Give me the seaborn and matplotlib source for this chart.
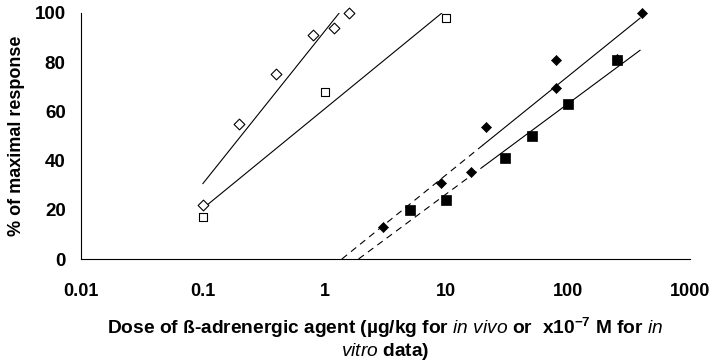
import numpy as np
import pandas as pd
import matplotlib
matplotlib.use("Agg")
import matplotlib.pyplot as plt
import seaborn as sns

# In vivo data (open symbols)
vivo_a_dose = [0.1, 0.2, 0.4, 0.8, 1.2, 1.6]
vivo_a_resp = [22, 55, 75, 91, 94, 100]
vivo_b_dose = [0.1, 1, 10]
vivo_b_resp = [17, 68, 98]

# In vitro data (filled symbols)
vitro_a_dose = [3, 9, 16, 21, 80, 80, 250, 400]
vitro_a_resp = [13, 31, 35.5, 53.5, 69.5, 81, 81.5, 100]
vitro_b_dose = [5, 10, 30, 50, 100, 250]
vitro_b_resp = [20, 24, 41, 50, 63, 81]

x_ticks = [0.01, 0.1, 1, 10, 100, 1000]
x_ticklabels = ["0.01", "0.1", "1", "10", "100", "1000"]
y_ticks = [0, 20, 40, 60, 80, 100]

sns.set_theme(style="white")
plt.rcParams["font.family"] = ["Liberation Sans", "DejaVu Sans"]
plt.rcParams["mathtext.fontset"] = "custom"
plt.rcParams["mathtext.rm"] = "Liberation Sans:bold"
plt.rcParams["mathtext.bf"] = "Liberation Sans:bold"
plt.rcParams["mathtext.it"] = "Liberation Sans:italic"

fig = plt.figure(figsize=(7.14, 3.63), dpi=100)
ax = fig.add_axes([0.1134, 0.2865, 0.853, 0.6777])


def log_fit(dose, resp):
    slope, icpt = np.polyfit(np.log10(dose), resp, 1)
    return slope, icpt


def fit_line(dose, resp, lo, hi):
    slope, icpt = log_fit(dose, resp)
    lx = np.linspace(np.log10(lo), np.log10(hi), 60)
    return pd.DataFrame({"x": 10 ** lx, "y": slope * lx + icpt})


def dose_at(dose, resp, level):
    slope, icpt = log_fit(dose, resp)
    return 10 ** ((level - icpt) / slope)


line_kw = dict(color="black", lw=0.8, ax=ax, legend=False)

# in vivo regressions, from the lowest dose up to 100 %
sns.lineplot(data=fit_line(vivo_a_dose, vivo_a_resp, 0.1,
                           dose_at(vivo_a_dose, vivo_a_resp, 100)),
             x="x", y="y", **line_kw)
sns.lineplot(data=fit_line(vivo_b_dose, vivo_b_resp, 0.1,
                           dose_at(vivo_b_dose, vivo_b_resp, 100)),
             x="x", y="y", **line_kw)

# in vitro regressions: dashed extrapolation down to 0 %, solid above
split = 20
for d, r in [(vitro_a_dose, vitro_a_resp), (vitro_b_dose, vitro_b_resp)]:
    x0 = dose_at(d, r, 0)
    dashed = fit_line(d, r, x0, split)
    solid = fit_line(d, r, split, 390)
    sns.lineplot(data=dashed, x="x", y="y", linestyle=(0, (6, 4.5)), **line_kw)
    sns.lineplot(data=solid, x="x", y="y", **line_kw)

sns.scatterplot(x=vivo_a_dose, y=vivo_a_resp, marker="D", s=30,
                facecolor="white", edgecolor="black", linewidth=0.8, ax=ax, zorder=3)
sns.scatterplot(x=vivo_b_dose, y=vivo_b_resp, marker="s", s=40,
                facecolor="white", edgecolor="black", linewidth=0.8, ax=ax, zorder=3)
sns.scatterplot(x=vitro_a_dose, y=vitro_a_resp, marker="D", s=26,
                color="black", edgecolor="black", linewidth=0.5, ax=ax, zorder=3)
sns.scatterplot(x=vitro_b_dose, y=vitro_b_resp, marker="s", s=46,
                color="black", edgecolor="black", linewidth=0.5, ax=ax, zorder=3)
for coll in ax.collections:
    coll.set_clip_on(False)

ax.set_xscale("log")
ax.set_xlim(0.01, 1000)
ax.set_ylim(0, 100)
ax.set_xticks(x_ticks)
ax.set_xticklabels(x_ticklabels)
ax.set_yticks(y_ticks)
ax.xaxis.set_minor_locator(matplotlib.ticker.NullLocator())
ax.tick_params(axis="both", direction="out", length=3, width=0.8, color="black",
               labelcolor="black")
ax.tick_params(axis="x", pad=14, labelsize=13)
ax.tick_params(axis="y", pad=8, labelsize=13.5)
for lab in ax.get_xticklabels() + ax.get_yticklabels():
    lab.set_fontweight("bold")

sns.despine(ax=ax)
for side in ("left", "bottom"):
    ax.spines[side].set_color("black")
    ax.spines[side].set_linewidth(0.8)

ax.set_ylabel("% of maximal response", fontsize=13, fontweight="bold",
              color="black", labelpad=7)
ax.set_xlabel(r"Dose of ß-adrenergic agent (µg/kg for $\it{in\ vivo}$ or  x10$^{-7}$ M for $\it{in}$"
              "\n" r"$\it{vitro}$ data)",
              fontsize=13.8, fontweight="bold", color="black", labelpad=12,
              linespacing=1.05)

fig.savefig("out.png", dpi=100)
